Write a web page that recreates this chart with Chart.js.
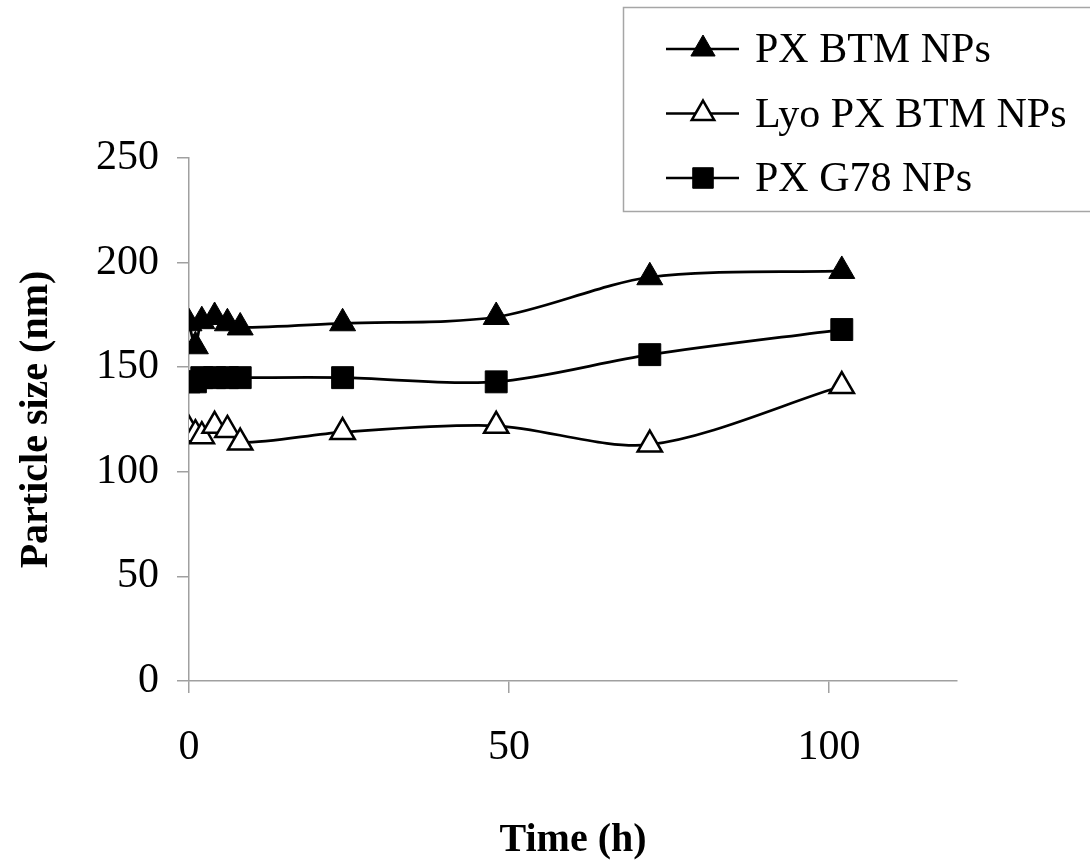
<!DOCTYPE html>
<html>
<head>
<meta charset="utf-8">
<script src="https://cdn.jsdelivr.net/npm/chart.js@4.4.1/dist/chart.umd.min.js"></script>
<style>
  html, body { margin: 0; padding: 0; background: #fff; }
  #wrap { width: 1090px; height: 865px; }
</style>
</head>
<body>
<div id="wrap"><canvas id="sizeChart" width="1090" height="865"></canvas></div>
<script>
// time points (h)
const hours = [0, 1, 2, 4, 6, 8, 24, 48, 72, 102];
const pxBtm = [171, 160, 172, 174, 171, 169, 171, 174, 193, 196];
const lyoPxBtm = [120, 118, 117, 122, 120, 114, 119, 122, 113, 141];
const pxG78 = [143, 143, 145, 145, 145, 145, 145, 143, 156, 168];
const seriesNames = ['PX BTM NPs', 'Lyo PX BTM NPs', 'PX G78 NPs'];
const yTicks = [0, 50, 100, 150, 200, 250];
const xTicks = [0, 50, 100];

const axisGrey = '#a0a0a0';
const serif = "'Liberation Serif', 'Times New Roman', serif";

const toPoints = vals => vals.map((v, i) => ({ x: hours[i], y: v }));

// legend in a grey box, line sample with marker in the middle
const boxLegend = {
  id: 'boxLegend',
  afterDraw(chart) {
    const ctx = chart.ctx;
    ctx.save();
    ctx.strokeStyle = '#a6a6a6';
    ctx.lineWidth = 1.5;
    ctx.strokeRect(623.5, 7.5, 480, 204);
    chart.data.datasets.forEach((ds, i) => {
      const y = 49 + i * 64.5;
      ctx.strokeStyle = '#000';
      ctx.lineWidth = 2.5;
      ctx.beginPath();
      ctx.moveTo(666, y);
      ctx.lineTo(739, y);
      ctx.stroke();
      ctx.fillStyle = ds.pointBackgroundColor;
      ctx.strokeStyle = ds.pointBorderColor;
      ctx.lineWidth = ds.pointBorderWidth;
      Chart.helpers.drawPoint(ctx, {
        pointStyle: ds.pointStyle,
        radius: ds.pointRadius - 1,
        borderWidth: ds.pointBorderWidth,
        rotation: 0
      }, 703, y);
      ctx.fillStyle = '#000';
      ctx.font = '42px ' + serif;
      ctx.textBaseline = 'middle';
      ctx.fillText(ds.label, 755, y + 2);
    });
    ctx.restore();
  }
};

const ctx = document.getElementById('sizeChart').getContext('2d');
const sizeChart = new Chart(ctx, {
  type: 'line',
  data: {
    datasets: [
      {
        label: seriesNames[0],
        data: toPoints(pxBtm),
        borderColor: '#000',
        borderWidth: 2.75,
        pointStyle: 'triangle',
        pointRadius: 15,
        pointBackgroundColor: '#000',
        pointBorderColor: '#000',
        pointBorderWidth: 1,
        tension: 0.3
      },
      {
        label: seriesNames[1],
        data: toPoints(lyoPxBtm),
        borderColor: '#000',
        borderWidth: 2.75,
        pointStyle: 'triangle',
        pointRadius: 14,
        pointBackgroundColor: '#fff',
        pointBorderColor: '#000',
        pointBorderWidth: 2.5,
        tension: 0.3
      },
      {
        label: seriesNames[2],
        data: toPoints(pxG78),
        borderColor: '#000',
        borderWidth: 2.75,
        pointStyle: 'rect',
        pointRadius: 15.5,
        pointBackgroundColor: '#000',
        pointBorderColor: '#000',
        pointBorderWidth: 1,
        tension: 0.3
      }
    ]
  },
  options: {
    responsive: false,
    animation: false,
    layout: { padding: { top: 158, right: 133, left: 0, bottom: 0 } },
    plugins: {
      legend: { display: false },
      tooltip: { enabled: false }
    },
    scales: {
      x: {
        type: 'linear',
        min: 0,
        max: 120,
        afterBuildTicks: scale => { scale.ticks = xTicks.map(v => ({ value: v })); },
        afterFit: scale => { scale.height = 184; },
        ticks: { color: '#000', font: { family: serif, size: 42 }, padding: 30, maxRotation: 0 },
        grid: { drawOnChartArea: false, drawTicks: true, tickLength: 12, color: axisGrey, lineWidth: 1.5 },
        border: { color: axisGrey, width: 1.5 },
        title: {
          display: true,
          text: 'Time (h)',
          color: '#000',
          font: { family: serif, size: 40, weight: 'bold' },
          padding: { top: 0, bottom: 0 }
        }
      },
      y: {
        min: 0,
        max: 250,
        afterBuildTicks: scale => { scale.ticks = yTicks.map(v => ({ value: v })); },
        afterFit: scale => { scale.width = 189; },
        ticks: { color: '#000', font: { family: serif, size: 42 }, padding: 18 },
        grid: { drawOnChartArea: false, drawTicks: true, tickLength: 12, color: axisGrey, lineWidth: 1.5 },
        border: { color: axisGrey, width: 1.5 },
        title: {
          display: true,
          text: 'Particle size (nm)',
          color: '#000',
          font: { family: serif, size: 40, weight: 'bold' },
          padding: { top: 13, bottom: 0 }
        }
      }
    }
  },
  plugins: [boxLegend]
});
</script>
</body>
</html>
